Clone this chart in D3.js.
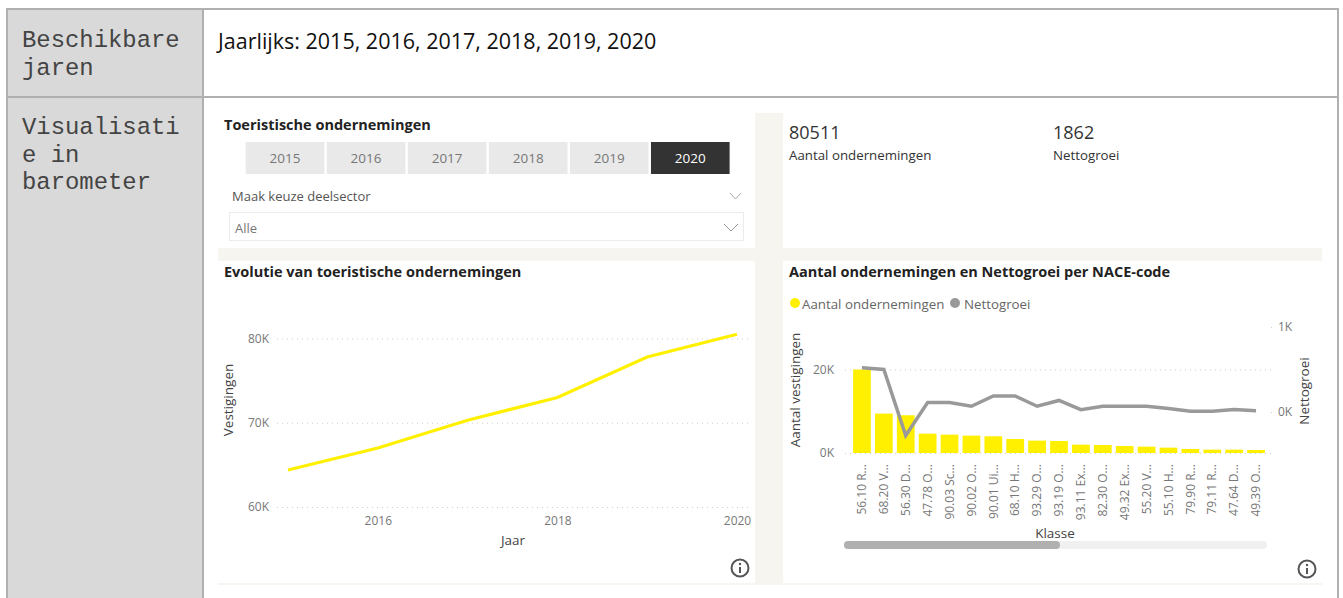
<!DOCTYPE html>
<html>
<head>
<meta charset="utf-8">
<script src="https://cdn.jsdelivr.net/npm/d3@7"></script>
<style>
  html, body { margin: 0; padding: 0; background: white; overflow: hidden; }
  svg { display: block; }
  text { font-family: "Open Sans", sans-serif; }
  .axis .domain { display: none; }
  .axis .tick line { display: none; }
  .grid .domain { display: none; }
  .grid .tick text { display: none; }
  .grid .tick line { stroke: #cfcfcf; stroke-width: 1; stroke-dasharray: 1 4; }
</style>
</head>
<body>
<svg id="page" width="1343" height="598"></svg>
<script>
const yellow = '#fff000'
const grey = '#999999'
const panelBack = '#f6f5ef'
const tickGrey = '#777777'
const titleBlack = '#222222'

// slicer + kpi
const sliceYears = ['2015', '2016', '2017', '2018', '2019', '2020']
const kpiValues = ['80511', '1862']
const kpiLabels = ['Aantal ondernemingen', 'Nettogroei']

// line chart
const years = [2015, 2016, 2017, 2018, 2019, 2020]
const vestigingen = [64400, 67000, 70300, 73000, 77800, 80511]
const yearTicks = [2016, 2018, 2020]
const vestigingTicks = [60000, 70000, 80000]

// combo chart
const klasses = ['56.10 R...', '68.20 V...', '56.30 D...', '47.78 O...', '90.03 Sc...', '90.02 O...', '90.01 Ui...', '68.10 H...', '93.29 O...', '93.19 O...', '93.11 Ex...', '82.30 O...', '49.32 Ex...', '55.20 V...', '55.10 H...', '79.90 R...', '79.11 R...', '47.64 D...', '49.39 O...']
const aantal = [20000, 9440, 9040, 4640, 4400, 4160, 4000, 3360, 2960, 2880, 2000, 1920, 1680, 1520, 1280, 960, 800, 800, 720]
const nettogroei = [520, 500, -276, 112, 112, 68, 188, 188, 68, 136, 28, 68, 68, 68, 40, 8, 8, 28, 16]
const aantalTicks = [0, 20000]
const groeiTicks = [0, 1000]

const svg = d3.select('#page')
const kFormat = d => (d / 1000) + 'K'

/* TABLE AROUND THE DASHBOARD */

const table = svg.append('g')
table.append('rect').attr('x', 8).attr('y', 10).attr('width', 195).attr('height', 600).attr('fill', '#d9d9d9')

const tableLines = [[6, 9, 1339, 9], [7, 97, 1338, 97], [7, 9, 7, 598], [203, 9, 203, 598], [1338, 9, 1338, 598]]
tableLines.forEach(d => {
  table.append('line')
      .attr('x1', d[0]).attr('y1', d[1]).attr('x2', d[2]).attr('y2', d[3])
      .attr('stroke', '#b0b0b0').attr('stroke-width', 2)
})

const headLines = [['Beschikbare', 47], ['jaren', 74.5], ['Visualisati', 134], ['e in', 162], ['barometer', 189]]
headLines.forEach(d => {
  table.append('text')
      .attr('x', 22).attr('y', d[1])
      .style('font-family', '"Liberation Mono", monospace')
      .style('font-size', '23.9px')
      .attr('fill', '#444')
      .text(d[0])
})

table.append('text')
    .attr('x', 218).attr('y', 49)
    .style('font-size', '21.5px')
    .attr('fill', '#111')
    .text('Jaarlijks: 2015, 2016, 2017, 2018, 2019, 2020')

/* DASHBOARD PANELS */

svg.append('rect').attr('x', 218).attr('y', 113).attr('width', 1104).attr('height', 472).attr('fill', panelBack)

const panels = [[218, 113, 537, 135], [783, 113, 539, 135], [218, 261, 537, 322], [783, 261, 539, 322]]
panels.forEach(d => {
  svg.append('rect').attr('x', d[0]).attr('y', d[1]).attr('width', d[2]).attr('height', d[3]).attr('fill', 'white')
})

function title (x, y, label) {
  svg.append('text')
      .attr('x', x).attr('y', y)
      .style('font-size', '14.5px')
      .style('font-weight', 700)
      .attr('fill', titleBlack)
      .text(label)
}

title(224, 130, 'Toeristische ondernemingen')
title(224, 277, 'Evolutie van toeristische ondernemingen')
title(789, 277, 'Aantal ondernemingen en Nettogroei per NACE-code')

/* YEAR SLICER */

const sliceX = d3.scaleBand().domain(sliceYears).range([245.7, 729.6]).paddingInner(0.03)
sliceYears.forEach(d => {
  const on = d === '2020'
  svg.append('rect')
      .attr('x', sliceX(d)).attr('y', 142)
      .attr('width', sliceX.bandwidth()).attr('height', 32)
      .attr('fill', on ? '#333333' : '#e9e9e9')
  svg.append('text')
      .attr('x', sliceX(d) + sliceX.bandwidth() / 2).attr('y', 163)
      .attr('text-anchor', 'middle')
      .style('font-size', '13.5px')
      .attr('fill', on ? 'white' : '#777')
      .text(d)
})

svg.append('text').attr('x', 232).attr('y', 201).style('font-size', '13px').attr('fill', '#555').text('Maak keuze deelsector')
svg.append('rect').attr('x', 229.5).attr('y', 212.5).attr('width', 514).attr('height', 28).attr('fill', 'white').attr('stroke', '#ececec')
svg.append('text').attr('x', 235).attr('y', 233).style('font-size', '13px').attr('fill', '#777').text('Alle')

function chevron (x, y, w, h, colour) {
  svg.append('path')
      .attr('d', `M${x},${y}L${x + w / 2},${y + h}L${x + w},${y}`)
      .attr('fill', 'none')
      .attr('stroke', colour)
}
chevron(730, 193, 11, 6, '#aaaaaa')
chevron(724, 224, 14, 7, '#999999')

/* KPI CARDS */

const kpiX = [789, 1053]
kpiValues.forEach((d, i) => {
  svg.append('text').attr('x', kpiX[i]).attr('y', 139).style('font-size', '18px').attr('fill', '#333').text(d)
  svg.append('text').attr('x', kpiX[i]).attr('y', 160).style('font-size', '13.3px').attr('fill', '#333').text(kpiLabels[i])
})

/* LINE CHART */

const lineX = d3.scaleLinear().domain([2015, 2020]).range([288, 737])
const lineY = d3.scaleLinear().domain([60000, 80000]).range([507, 338.5])

svg.append('g').attr('class', 'grid')
    .attr('transform', 'translate(277,0)')
    .call(d3.axisRight(lineY).tickValues(vestigingTicks).tickSize(472))

svg.append('g').attr('class', 'axis')
    .attr('transform', 'translate(269,0)')
    .call(d3.axisLeft(lineY).tickValues(vestigingTicks).tickFormat(kFormat).tickSize(0).tickPadding(0))
    .call(g => g.selectAll('text').style('font-size', '12px').attr('fill', tickGrey))

svg.append('g').attr('class', 'axis')
    .attr('transform', 'translate(0,516)')
    .call(d3.axisBottom(lineX).tickValues(yearTicks).tickFormat(d3.format('d')).tickSize(0).tickPadding(0))
    .call(g => g.selectAll('text').style('font-size', '12px').attr('fill', tickGrey))

svg.append('path')
    .datum(years)
    .attr('fill', 'none')
    .attr('stroke', yellow)
    .attr('stroke-width', 3.2)
    .attr('d', d3.line().x(d => lineX(d)).y((d, i) => lineY(vestigingen[i])))

svg.append('text').attr('x', 513).attr('y', 545).attr('text-anchor', 'middle').style('font-size', '13.5px').attr('fill', '#444').text('Jaar')
svg.append('text').attr('transform', 'translate(233,400) rotate(-90)').attr('text-anchor', 'middle').style('font-size', '13.5px').attr('fill', '#444').text('Vestigingen')

/* COMBO CHART */

const legendItems = [['Aantal ondernemingen', yellow, 795, 802], ['Nettogroei', grey, 955, 964]]
legendItems.forEach(d => {
  svg.append('circle').attr('cx', d[2]).attr('cy', 303).attr('r', 5).attr('fill', d[1])
  svg.append('text').attr('x', d[3]).attr('y', 309).style('font-size', '13.3px').attr('fill', '#666').text(d[0])
})

const comboX = d3.scaleBand().domain(klasses).range([851, 1267]).paddingInner(0.19).paddingOuter(0.095)
const barY = d3.scaleLinear().domain([0, 20000]).range([453, 369.5])
const groeiY = d3.scaleLinear().domain([0, 1000]).range([412, 327])

svg.append('g').attr('class', 'grid')
    .attr('transform', 'translate(845,0)')
    .call(d3.axisRight(barY).tickValues(aantalTicks).tickSize(429))

svg.append('g').attr('class', 'grid')
    .attr('transform', 'translate(1271,0)')
    .call(d3.axisRight(groeiY).tickValues(groeiTicks).tickSize(3))

svg.append('g').attr('class', 'axis')
    .attr('transform', 'translate(834,0)')
    .call(d3.axisLeft(barY).tickValues(aantalTicks).tickFormat(kFormat).tickSize(0).tickPadding(0))
    .call(g => g.selectAll('text').style('font-size', '12px').attr('fill', tickGrey))

svg.append('g').attr('class', 'axis')
    .attr('transform', 'translate(1278,0)')
    .call(d3.axisRight(groeiY).tickValues(groeiTicks).tickFormat(kFormat).tickSize(0).tickPadding(0))
    .call(g => g.selectAll('text').style('font-size', '12px').attr('fill', tickGrey))

svg.selectAll('.bar')
    .data(klasses)
    .enter().append('rect')
    .attr('class', 'bar')
    .attr('x', d => comboX(d))
    .attr('y', (d, i) => barY(aantal[i]))
    .attr('width', comboX.bandwidth())
    .attr('height', (d, i) => barY(0) - barY(aantal[i]))
    .attr('fill', yellow)

svg.append('path')
    .datum(klasses)
    .attr('fill', 'none')
    .attr('stroke', grey)
    .attr('stroke-width', 3.5)
    .attr('d', d3.line().x(d => comboX(d) + comboX.bandwidth() / 2).y((d, i) => groeiY(nettogroei[i])))

svg.append('g').attr('class', 'axis')
    .attr('transform', 'translate(0,464)')
    .call(d3.axisBottom(comboX).tickSize(0).tickPadding(0))
    .call(g => g.selectAll('text')
        .style('font-size', '12px')
        .attr('fill', tickGrey)
        .attr('text-anchor', 'end')
        .attr('dy', '0.35em')
        .attr('transform', 'rotate(-90)')
        .attr('x', 0).attr('y', 0))

svg.append('text').attr('x', 1055).attr('y', 538).attr('text-anchor', 'middle').style('font-size', '13.5px').attr('fill', '#444').text('Klasse')
svg.append('text').attr('transform', 'translate(800,390) rotate(-90)').attr('text-anchor', 'middle').style('font-size', '13.5px').attr('fill', '#444').text('Aantal vestigingen')
svg.append('text').attr('transform', 'translate(1309,391) rotate(-90)').attr('text-anchor', 'middle').style('font-size', '13.5px').attr('fill', '#444').text('Nettogroei')

// scrollbar
svg.append('rect').attr('x', 844).attr('y', 541).attr('width', 423).attr('height', 8).attr('rx', 4).attr('fill', '#f0f0f0')
svg.append('rect').attr('x', 844).attr('y', 541).attr('width', 216).attr('height', 8).attr('rx', 4).attr('fill', '#b0b0b0')

/* INFO ICONS */

function infoIcon (cx, cy) {
  const g = svg.append('g')
  g.append('circle').attr('cx', cx).attr('cy', cy).attr('r', 8.5).attr('fill', 'white').attr('stroke', '#555').attr('stroke-width', 2)
  g.append('line').attr('x1', cx).attr('y1', cy - 1).attr('x2', cx).attr('y2', cy + 5).attr('stroke', '#555').attr('stroke-width', 2)
  g.append('circle').attr('cx', cx).attr('cy', cy - 4).attr('r', 1.2).attr('fill', '#555')
}
infoIcon(740, 568)
infoIcon(1307, 569)
</script>
</body>
</html>
